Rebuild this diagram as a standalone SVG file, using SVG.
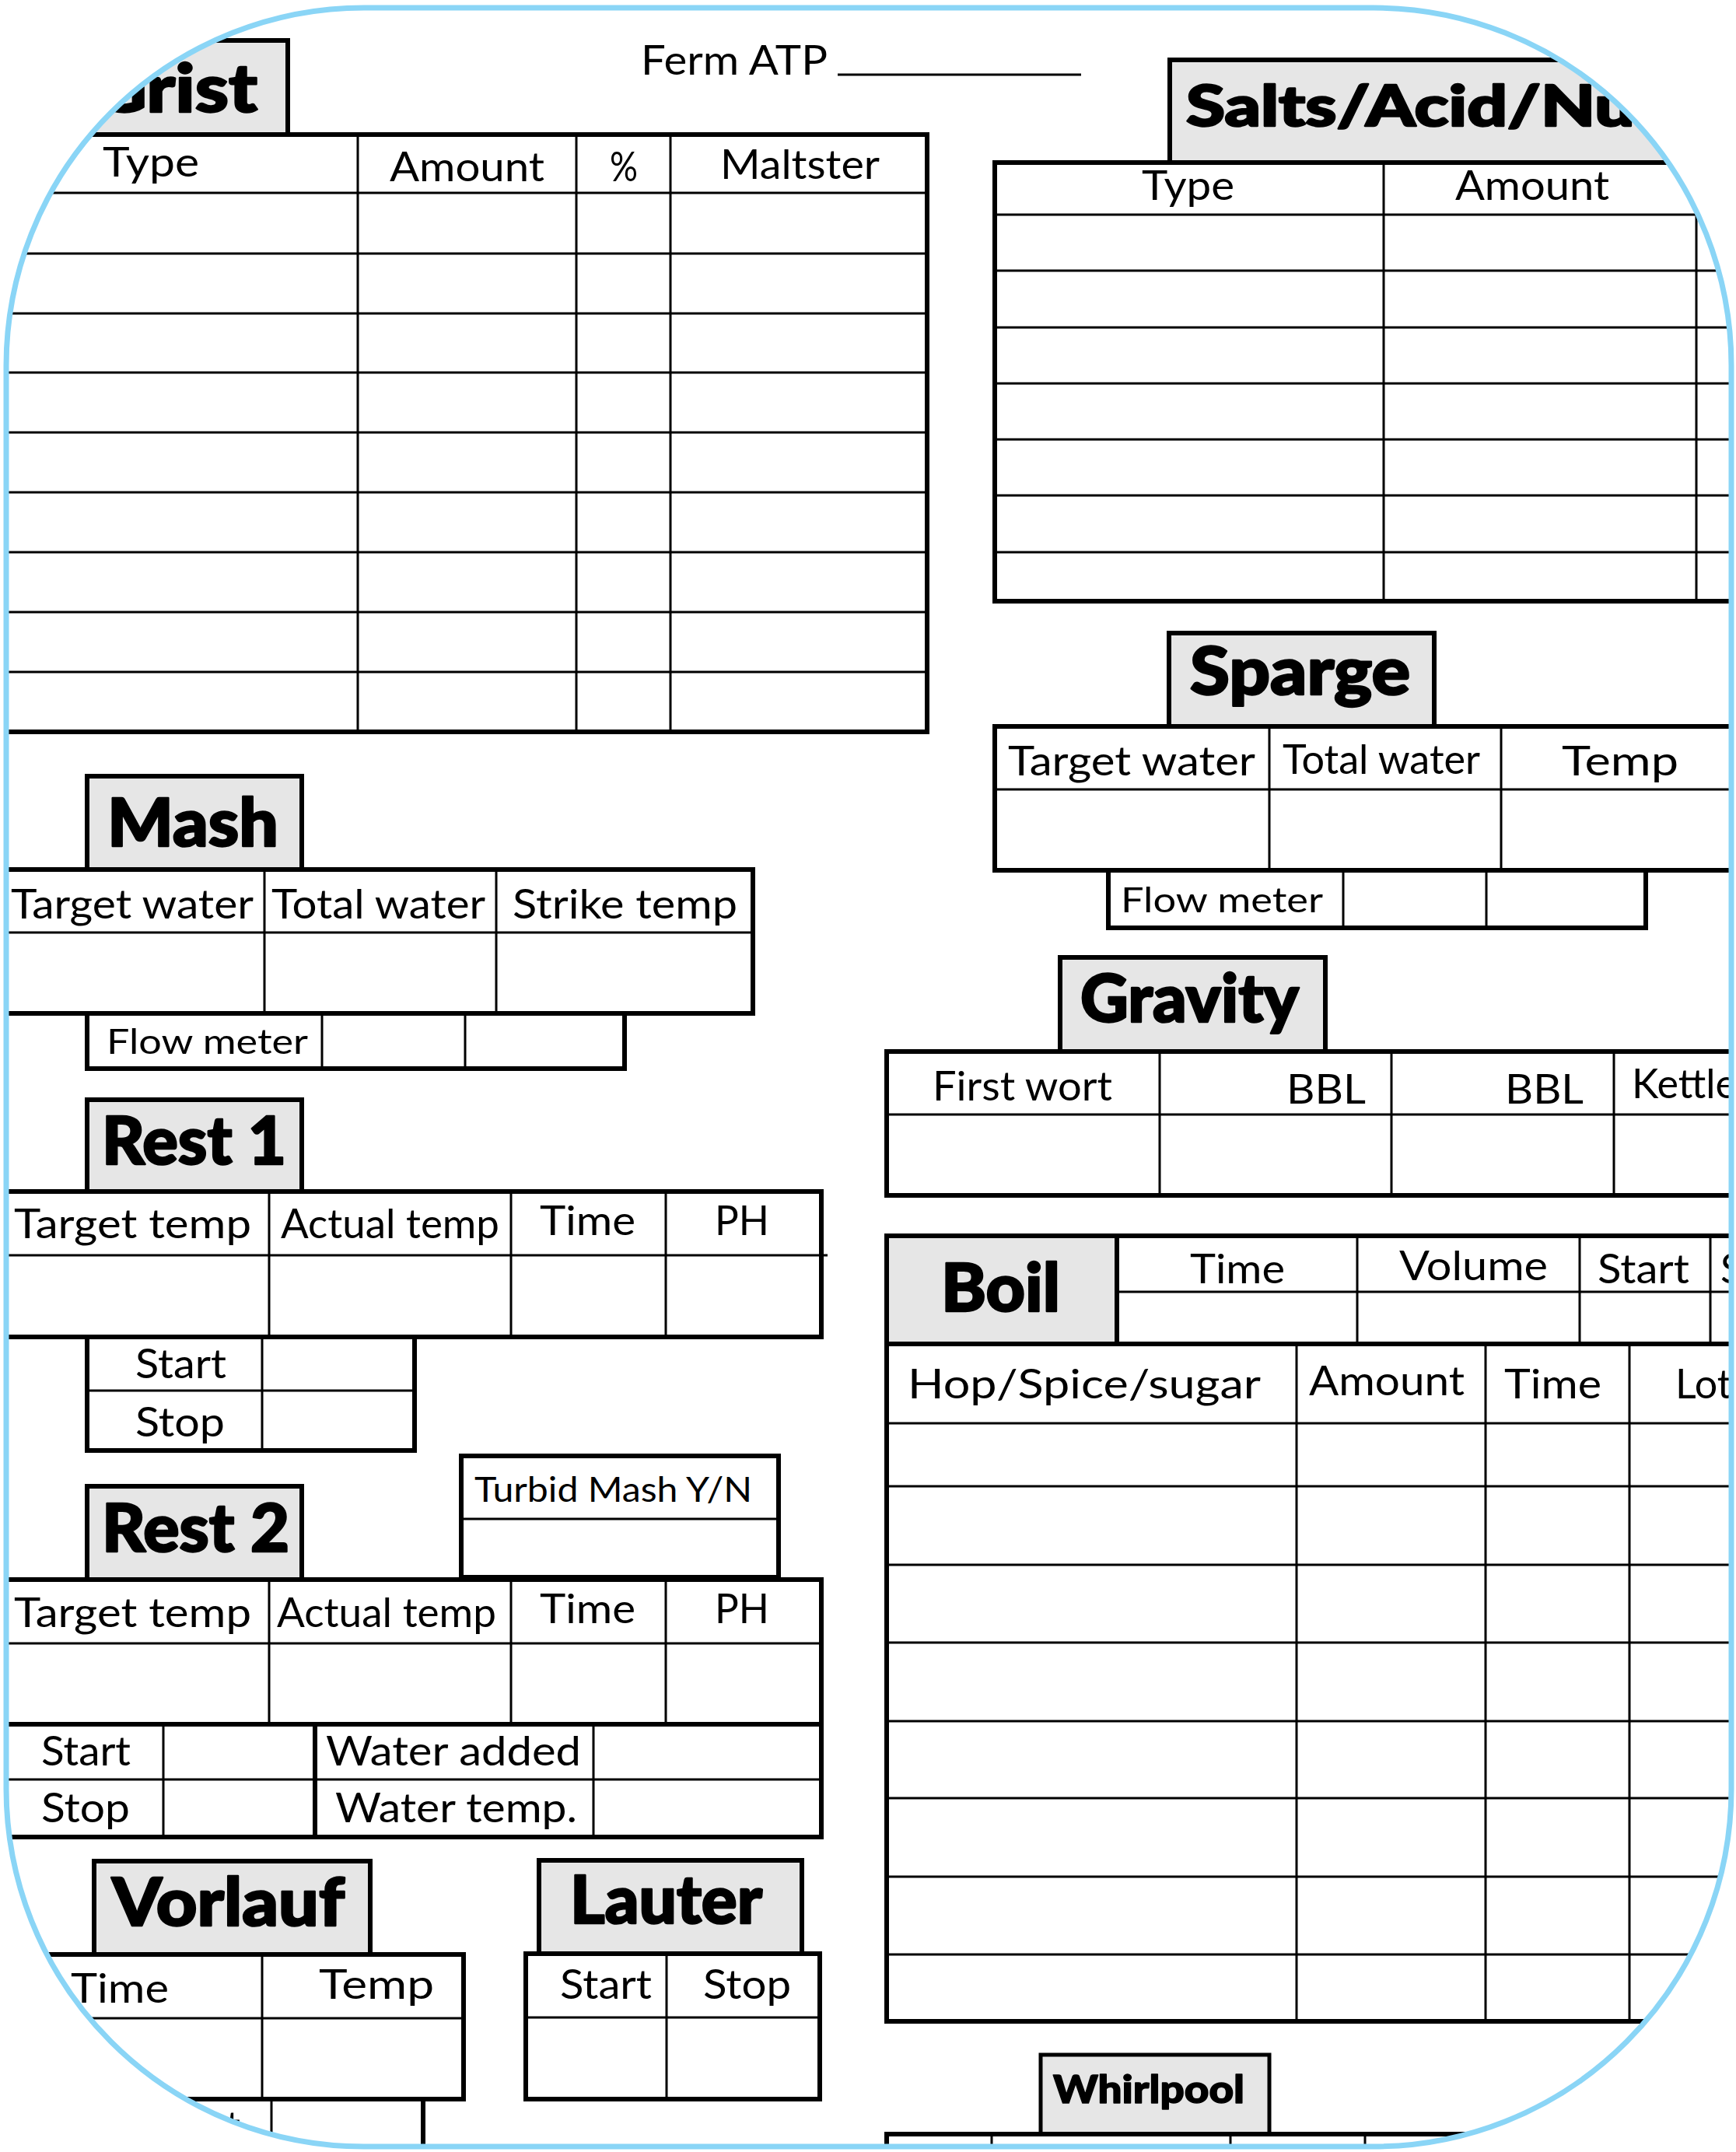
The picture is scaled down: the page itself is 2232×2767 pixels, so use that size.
<svg xmlns="http://www.w3.org/2000/svg" width="2232" height="2767" viewBox="0 0 2232 2767">
<style>
.t{font-family:Lato,'Liberation Sans',sans-serif;font-size:52px;fill:#000}
.s{font-size:45px}
.h{font-family:Lato,'Liberation Sans',sans-serif;font-weight:900;font-size:86px;fill:#000;stroke:#000;stroke-width:2.5px;stroke-linejoin:round}
.o{fill:none;stroke:#000;stroke-width:6}
.i{fill:none;stroke:#000;stroke-width:3}
.tab{fill:#e6e6e6;stroke:#000;stroke-width:6}
</style>
<defs>
<clipPath id="page"><rect x="8" y="10" width="2218" height="2750" rx="460" ry="460"/></clipPath>
</defs>
<rect width="2232" height="2767" fill="#fff"/>
<g clip-path="url(#page)">
<g id="ferm">
<text class="t" x="824" y="96" textLength="240" lengthAdjust="spacingAndGlyphs">Ferm ATP</text>
<line class="i" x1="1077" y1="96" x2="1390" y2="96"/>
</g>
<g id="grist">
<rect class="tab" x="-20" y="52" width="390" height="121"/>
<text class="h" x="118" y="144" textLength="213" lengthAdjust="spacingAndGlyphs">Grist</text>
<rect class="o" x="-20" y="173" width="1212" height="768"/>
<path class="i" d="M-20 248H1192M-20 326H1192M-20 403H1192M-20 479H1192M-20 556H1192M-20 633H1192M-20 710H1192M-20 787H1192M-20 864H1192M460 173V941M741 173V941M862 173V941"/>
<text class="t" x="132" y="227" textLength="124" lengthAdjust="spacingAndGlyphs">Type</text>
<text class="t" x="501" y="233" textLength="199" lengthAdjust="spacingAndGlyphs">Amount</text>
<text class="t" x="784" y="233" textLength="36" lengthAdjust="spacingAndGlyphs">%</text>
<text class="t" x="926" y="230" textLength="205" lengthAdjust="spacingAndGlyphs">Maltster</text>
</g>
<g id="salts">
<rect class="tab" x="1504" y="77" width="900" height="132"/>
<text class="h" x="1525" y="162" style="font-size:72px" textLength="843" lengthAdjust="spacingAndGlyphs">Salts/Acid/Nutrients</text>
<rect class="o" x="1279" y="209" width="1100" height="564"/>
<path class="i" d="M1279 276H2400M1279 348H2400M1279 421H2400M1279 493H2400M1279 565H2400M1279 637H2400M1279 710H2400M1779 209V773M2181 276V773"/>
<text class="t" x="1468" y="257" textLength="119" lengthAdjust="spacingAndGlyphs">Type</text>
<text class="t" x="1871" y="257" textLength="198" lengthAdjust="spacingAndGlyphs">Amount</text>
</g>
<g id="sparge">
<rect class="tab" x="1503" y="814" width="341" height="120"/>
<text class="h" x="1530" y="893" textLength="283" lengthAdjust="spacingAndGlyphs">Sparge</text>
<rect class="o" x="1279" y="934" width="1100" height="185"/>
<path class="i" d="M1279 1015H2400M1632 934V1119M1930 934V1119"/>
<text class="t" x="1296" y="997" textLength="318" lengthAdjust="spacingAndGlyphs">Target water</text>
<text class="t" x="1649" y="995" textLength="254" lengthAdjust="spacingAndGlyphs">Total water</text>
<text class="t" x="2008" y="997" textLength="150" lengthAdjust="spacingAndGlyphs">Temp</text>
<rect class="o" x="1425" y="1119" width="691" height="74"/>
<path class="i" d="M1727 1119V1193M1911 1119V1193"/>
<text class="t s" x="1441" y="1173" textLength="260" lengthAdjust="spacingAndGlyphs">Flow meter</text>
</g>
<g id="gravity">
<rect class="tab" x="1363" y="1231" width="341" height="121"/>
<text class="h" x="1389" y="1314" textLength="281" lengthAdjust="spacingAndGlyphs">Gravity</text>
<rect class="o" x="1140" y="1352" width="1240" height="185"/>
<path class="i" d="M1140 1433H2400M1491 1352V1537M1789 1352V1537M2075 1352V1537"/>
<text class="t" x="1199" y="1415" textLength="231" lengthAdjust="spacingAndGlyphs">First wort</text>
<text class="t" x="1654" y="1419" textLength="102" lengthAdjust="spacingAndGlyphs">BBL</text>
<text class="t" x="1935" y="1419" textLength="101" lengthAdjust="spacingAndGlyphs">BBL</text>
<text class="t" x="2098" y="1412">Kettle</text>
</g>
<g id="boil">
<rect class="tab" x="1140" y="1589" width="296" height="139"/>
<text class="h" x="1210" y="1686" textLength="153" lengthAdjust="spacingAndGlyphs">Boil</text>
<rect class="o" x="1436" y="1589" width="950" height="139"/>
<path class="i" d="M1436 1661H2400M1745 1589V1728M2031 1589V1728M2199 1589V1728"/>
<text class="t" x="1530" y="1650" textLength="122" lengthAdjust="spacingAndGlyphs">Time</text>
<text class="t" x="1799" y="1646" textLength="191" lengthAdjust="spacingAndGlyphs">Volume</text>
<text class="t" x="2054" y="1650" textLength="118" lengthAdjust="spacingAndGlyphs">Start</text>
<text class="t" x="2212" y="1650">Stop</text>
<rect class="o" x="1140" y="1728" width="1240" height="871"/>
<path class="i" d="M1140 1830H2400M1140 1911H2400M1140 2012H2400M1140 2112H2400M1140 2213H2400M1140 2312H2400M1140 2413H2400M1140 2513H2400M1667 1728V2599M1910 1728V2599M2095 1728V2599"/>
<text class="t" x="1167" y="1798" textLength="454" lengthAdjust="spacingAndGlyphs">Hop/Spice/sugar</text>
<text class="t" x="1683" y="1794" textLength="200" lengthAdjust="spacingAndGlyphs">Amount</text>
<text class="t" x="1934" y="1798" textLength="125" lengthAdjust="spacingAndGlyphs">Time</text>
<text class="t" x="2154" y="1798">Lot</text>
</g>
<g id="whirlpool">
<rect class="tab" x="1338" y="2642" width="294" height="102" style="stroke-width:5"/>
<text class="h" x="1354" y="2704" style="font-size:50px;stroke-width:1.5px" textLength="246" lengthAdjust="spacingAndGlyphs">Whirlpool</text>
<rect class="o" x="1140" y="2744" width="1240" height="100"/>
<path class="i" d="M1275 2744V2844M1582 2744V2844M1755 2744V2844"/>
</g>
<g id="mash">
<rect class="tab" x="112" y="998" width="276" height="120"/>
<text class="h" x="138" y="1088" textLength="220" lengthAdjust="spacingAndGlyphs">Mash</text>
<rect class="o" x="-20" y="1118" width="988" height="185"/>
<path class="i" d="M-20 1199H968M340 1118V1303M638 1118V1303"/>
<text class="t" x="14" y="1181" textLength="312" lengthAdjust="spacingAndGlyphs">Target water</text>
<text class="t" x="349" y="1181" textLength="275" lengthAdjust="spacingAndGlyphs">Total water</text>
<text class="t" x="659" y="1181" textLength="289" lengthAdjust="spacingAndGlyphs">Strike temp</text>
<rect class="o" x="112" y="1303" width="691" height="71"/>
<path class="i" d="M414 1303V1374M598 1303V1374"/>
<text class="t s" x="137" y="1355" textLength="259" lengthAdjust="spacingAndGlyphs">Flow meter</text>
</g>
<g id="rest1">
<rect class="tab" x="112" y="1414" width="276" height="118"/>
<text class="h" x="131" y="1497" textLength="237" lengthAdjust="spacingAndGlyphs">Rest 1</text>
<rect class="o" x="-20" y="1532" width="1076" height="187"/>
<path class="i" d="M-20 1614H1064M346 1532V1719M657 1532V1719M856 1532V1719"/>
<text class="t" x="18" y="1592" textLength="305" lengthAdjust="spacingAndGlyphs">Target temp</text>
<text class="t" x="361" y="1592" textLength="281" lengthAdjust="spacingAndGlyphs">Actual temp</text>
<text class="t" x="694" y="1588" textLength="123" lengthAdjust="spacingAndGlyphs">Time</text>
<text class="t" x="919" y="1588" textLength="70" lengthAdjust="spacingAndGlyphs">PH</text>
<rect class="o" x="112" y="1719" width="421" height="146"/>
<path class="i" d="M112 1788H533M337 1719V1865"/>
<text class="t" x="174" y="1772" textLength="117" lengthAdjust="spacingAndGlyphs">Start</text>
<text class="t" x="174" y="1847" textLength="115" lengthAdjust="spacingAndGlyphs">Stop</text>
</g>
<g id="turbid">
<rect class="o" x="593" y="1872" width="408" height="156"/>
<path class="i" d="M593 1953H1001"/>
<text class="t s" x="610" y="1931" textLength="357" lengthAdjust="spacingAndGlyphs">Turbid Mash Y/N</text>
</g>
<g id="rest2">
<rect class="tab" x="112" y="1911" width="276" height="120"/>
<text class="h" x="131" y="1995" textLength="241" lengthAdjust="spacingAndGlyphs">Rest 2</text>
<rect class="o" x="-20" y="2031" width="1076" height="186"/>
<path class="i" d="M-20 2113H1056M346 2031V2217M657 2031V2217M856 2031V2217"/>
<text class="t" x="18" y="2092" textLength="305" lengthAdjust="spacingAndGlyphs">Target temp</text>
<text class="t" x="356" y="2092" textLength="282" lengthAdjust="spacingAndGlyphs">Actual temp</text>
<text class="t" x="694" y="2087" textLength="123" lengthAdjust="spacingAndGlyphs">Time</text>
<text class="t" x="919" y="2087" textLength="70" lengthAdjust="spacingAndGlyphs">PH</text>
<rect class="o" x="-20" y="2217" width="1076" height="145"/>
<path class="i" d="M-20 2288H1056M210 2217V2362M763 2217V2362"/>
<path class="o" d="M405 2217V2362"/>
<text class="t" x="53" y="2270" textLength="115" lengthAdjust="spacingAndGlyphs">Start</text>
<text class="t" x="53" y="2343" textLength="114" lengthAdjust="spacingAndGlyphs">Stop</text>
<text class="t" x="419" y="2270" textLength="328" lengthAdjust="spacingAndGlyphs">Water added</text>
<text class="t" x="431" y="2343" textLength="311" lengthAdjust="spacingAndGlyphs">Water temp.</text>
</g>
<g id="vorlauf">
<rect class="tab" x="121" y="2393" width="355" height="120"/>
<text class="h" x="144" y="2476" textLength="299" lengthAdjust="spacingAndGlyphs">Vorlauf</text>
<rect class="o" x="-20" y="2513" width="616" height="186"/>
<path class="i" d="M-20 2595H596M337 2513V2699"/>
<text class="t" x="91" y="2575" textLength="126" lengthAdjust="spacingAndGlyphs">Time</text>
<text class="t" x="410" y="2570" textLength="148" lengthAdjust="spacingAndGlyphs">Temp</text>
<rect class="o" x="-20" y="2699" width="564" height="150"/>
<path class="i" d="M349 2699V2849"/>
<text class="t" x="309" y="2752" text-anchor="end">Start</text>
</g>
<g id="lauter">
<rect class="tab" x="693" y="2392" width="338" height="120"/>
<text class="h" x="733" y="2473" textLength="247" lengthAdjust="spacingAndGlyphs">Lauter</text>
<rect class="o" x="676" y="2512" width="378" height="187"/>
<path class="i" d="M676 2594H1054M857 2512V2699"/>
<text class="t" x="720" y="2570" textLength="118" lengthAdjust="spacingAndGlyphs">Start</text>
<text class="t" x="904" y="2570" textLength="113" lengthAdjust="spacingAndGlyphs">Stop</text>
</g>
</g>
<g id="connectors"></g>
<rect id="border" x="8" y="10" width="2218" height="2750" rx="460" ry="460" fill="none" stroke="#8ad5f6" stroke-width="7"/>
</svg>
